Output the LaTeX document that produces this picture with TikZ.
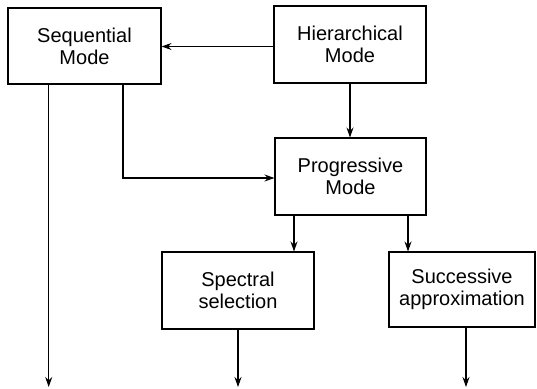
\documentclass[tikz,border=0pt]{standalone}
\usepackage{fontspec}
\setmainfont{Liberation Sans}
\usetikzlibrary{arrows.meta}
\begin{document}
\begin{tikzpicture}[x=1pt,y=-1pt,
  box/.style={draw, line width=1.1pt, inner sep=0pt, align=center,
    font=\fontsize{20}{22}\selectfont},
  arr/.style={line width=1.1pt, -{Stealth[length=10pt,width=7pt]}}]
\useasboundingbox (0,0) rectangle (537,388);
\node[box, minimum width=153pt, minimum height=76pt] (seq) at (84.5,46) {Sequential\\Mode};
\node[box, minimum width=152pt, minimum height=77pt] (hier) at (350,44.5) {Hierarchical\\Mode};
\node[box, minimum width=151pt, minimum height=77pt] (prog) at (350.5,176.5) {Progressive\\Mode};
\node[box, minimum width=152pt, minimum height=77pt] (spec) at (238,290.5) {Spectral\\selection};
\node[box, minimum width=146pt, minimum height=75pt] (succ) at (462,289.5) {Successive\\approximation};
\coordinate (seqA) at (48.7,0);
\coordinate (seqB) at (123,0);
\coordinate (pA) at (294,0);
\coordinate (pB) at (408,0);
\coordinate (sA) at (466,0);
\coordinate (endA) at (48.7,387);
\coordinate (endS) at (238,387);
\coordinate (endU) at (466,387);
\coordinate (corner) at (123,178);
\draw[arr] (hier.west |- 0,46.5) -- (seq.east |- 0,46.5);
\draw[arr] (hier.south) -- (hier.south |- prog.north);
\draw[arr] (seq.south -| seqA) -- (endA);
\draw[arr] (seq.south -| seqB) -- (corner) -- (prog.west |- corner);
\draw[arr] (prog.south -| pA) -- (spec.north -| pA);
\draw[arr] (prog.south -| pB) -- (succ.north -| pB);
\draw[arr] (spec.south) -- (endS);
\draw[arr] (succ.south -| sA) -- (endU);
\end{tikzpicture}
\end{document}
